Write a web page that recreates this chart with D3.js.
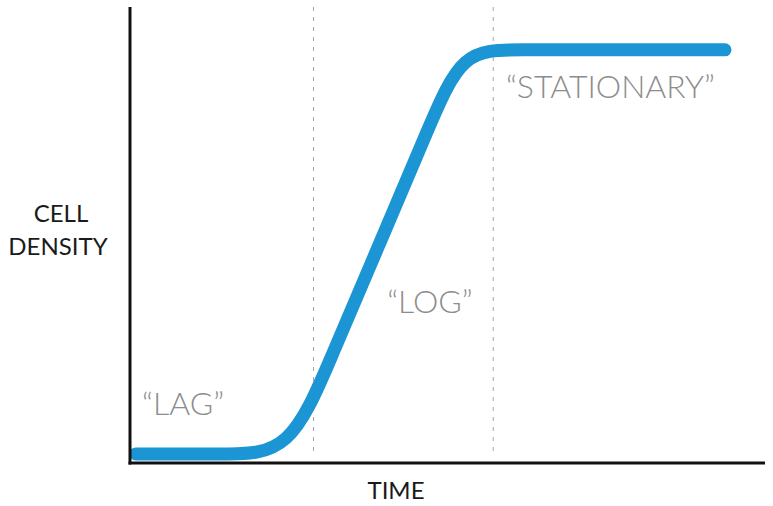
<!DOCTYPE html>
<html>
<head>
<meta charset="utf-8">
<script src="https://cdn.jsdelivr.net/npm/d3@7"></script>
<style>
  body { margin: 0; background: #fff; }
  svg { display: block; }
</style>
</head>
<body>
<script>
var width = 773,
    height = 506;

// growth curve, time vs cell density (0-100 both ways), B-spline control points
const time    = [0.9, 7.9, 15, 25.2, 31.5, 39.4, 47.2, 52.3, 60.6, 77.2, 93.7];
const density = [2, 2, 2, 2, 22.6, 48.4, 74.1, 90.6, 90.6, 90.6, 90.6];

// phase boundaries (dashed lines)
const phase_edges = [28.9, 57.2];

const phase_labels = [
    { text: "\u201CLAG\u201D", t: 1.9, d: 10.5 },
    { text: "\u201CLOG\u201D", t: 40.5, d: 33 },
    { text: "\u201CSTATIONARY\u201D", t: 59.2, d: 80 }
];

const svg = d3.select("body")
    .append("svg")
    .attr("width", width)
    .attr("height", height);

const x = d3.scaleLinear().domain([0, 100]).range([130, 765]);
const y = d3.scaleLinear().domain([0, 100]).range([463, 7]);

// dashed phase lines
svg.append("g")
    .selectAll("line")
    .data(phase_edges)
    .enter()
    .append("line")
    .attr("x1", d => x(d))
    .attr("x2", d => x(d))
    .attr("y1", y(100))
    .attr("y2", y(2.4))
    .attr("stroke", "#a5a5a5")
    .attr("stroke-width", 1)
    .attr("stroke-dasharray", "4,6");

// the curve
const line = d3.line()
    .x((d, i) => x(time[i]))
    .y((d, i) => y(density[i]))
    .curve(d3.curveBasis);

svg.append("path")
    .datum(time)
    .attr("d", line)
    .attr("fill", "none")
    .attr("stroke", "#1b95d3")
    .attr("stroke-width", 13)
    .attr("stroke-linecap", "round");

// axes (plain lines, no ticks)
svg.append("line")
    .attr("x1", x(0)).attr("x2", x(0))
    .attr("y1", y(100)).attr("y2", y(0) + 1.5)
    .attr("stroke", "#111").attr("stroke-width", 3);

svg.append("line")
    .attr("x1", x(0) - 1.5).attr("x2", x(100))
    .attr("y1", y(0)).attr("y2", y(0))
    .attr("stroke", "#111").attr("stroke-width", 3);

// phase labels
svg.append("g")
    .selectAll("text")
    .data(phase_labels)
    .enter()
    .append("text")
    .attr("x", d => x(d.t))
    .attr("y", d => y(d.d))
    .text(d => d.text)
    .attr("fill", "#8c8c8c")
    .attr("font-family", "Lato, 'Open Sans', sans-serif")
    .attr("font-weight", 300)
    .attr("font-size", "32px");

// axis titles
const title = svg.append("g")
    .attr("font-family", "Lato, 'Open Sans', sans-serif")
    .attr("font-size", "24px")
    .attr("fill", "#1a1a1a")
    .attr("text-anchor", "middle");

title.append("text").attr("x", 61).attr("y", 222).text("CELL");
title.append("text").attr("x", 58).attr("y", 255).text("DENSITY");
title.append("text").attr("x", 396).attr("y", 499).text("TIME");
</script>
</body>
</html>
